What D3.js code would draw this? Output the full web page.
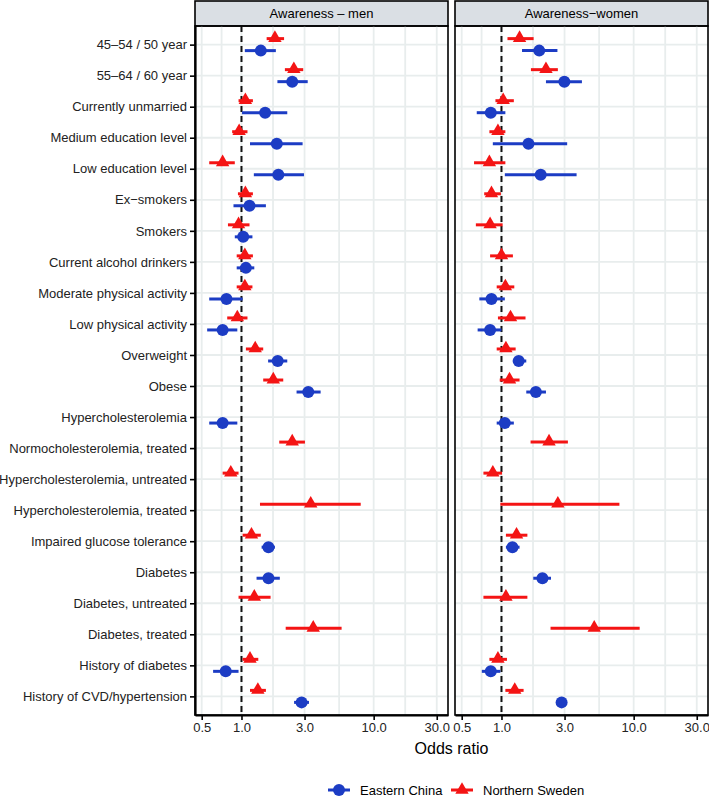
<!DOCTYPE html>
<html>
<head>
<meta charset="utf-8">
<script src="https://cdn.jsdelivr.net/npm/d3@7"></script>
<style>
  body { margin: 0; background: #fff; }
  svg { font-family: "Liberation Sans", Arial, sans-serif; }
</style>
</head>
<body>
<div id="chart"></div>
<script>
// row labels, top to bottom
var categories = ["45–54 / 50 year", "55–64 / 60 year", "Currently unmarried", "Medium education level",
    "Low education level", "Ex−smokers", "Smokers", "Current alcohol drinkers", "Moderate physical activity",
    "Low physical activity", "Overweight", "Obese", "Hypercholesterolemia", "Normocholesterolemia, treated",
    "Hypercholesterolemia, untreated", "Hypercholesterolemia, treated", "Impaired glucose tolerance", "Diabetes",
    "Diabetes, untreated", "Diabetes, treated", "History of diabetes", "History of CVD/hypertension"];

var panels = ["Awareness – men", "Awareness−women"];
var seriesNames = ["Eastern China", "Northern Sweden"];
var tickValues = [0.5, 1, 3, 10, 30];
var tickLabels = ["0.5", "1.0", "3.0", "10.0", "30.0"];

// [odds ratio, lower, upper], null = not estimated
var chinaMen = [[1.40, 1.06, 1.82], [2.42, 1.87, 3.17], [1.51, 1.01, 2.22], [1.85, 1.16, 2.90], [1.90, 1.24, 2.97],
    [1.15, 0.87, 1.53], [1.03, 0.89, 1.21], [1.08, 0.92, 1.25], [0.77, 0.57, 1.02], [0.72, 0.55, 0.93],
    [1.88, 1.59, 2.22], [3.20, 2.61, 3.97], [0.72, 0.57, 0.93], null, null, null,
    [1.60, 1.42, 1.79], [1.60, 1.30, 1.95], null, null, [0.76, 0.61, 0.95], [2.85, 2.50, 3.24]];

var swedenMen = [[1.79, 1.55, 2.10], [2.49, 2.13, 2.93], [1.07, 0.95, 1.22], [0.96, 0.85, 1.11], [0.72, 0.57, 0.89],
    [1.07, 0.94, 1.22], [0.95, 0.79, 1.15], [1.06, 0.92, 1.22], [1.06, 0.92, 1.21], [0.93, 0.78, 1.11],
    [1.27, 1.08, 1.46], [1.74, 1.46, 2.07], null, [2.42, 1.93, 3.02], [0.83, 0.72, 0.95], [3.34, 1.38, 7.98],
    [1.19, 1.02, 1.40], null, [1.25, 0.95, 1.66], [3.49, 2.16, 5.72], [1.16, 1.02, 1.34], [1.33, 1.16, 1.53]];

var chinaWomen = [[1.93, 1.43, 2.65], [2.99, 2.17, 4.06], [0.83, 0.65, 1.07], [1.60, 0.86, 3.14], [1.98, 1.06, 3.70],
    null, null, null, [0.84, 0.68, 1.06], [0.82, 0.66, 1.00],
    [1.35, 1.22, 1.54], [1.82, 1.54, 2.17], [1.06, 0.92, 1.24], null, null, null,
    [1.21, 1.08, 1.37], [2.04, 1.74, 2.37], null, null, [0.83, 0.71, 0.98], [2.85, 2.65, 3.05]];

var swedenWomen = [[1.37, 1.11, 1.75], [2.17, 1.67, 2.67], [1.03, 0.90, 1.24], [0.94, 0.81, 1.07], [0.81, 0.62, 1.07],
    [0.84, 0.74, 0.99], [0.82, 0.64, 1.02], [1.00, 0.82, 1.22], [1.07, 0.92, 1.25], [1.17, 0.94, 1.52],
    [1.08, 0.92, 1.28], [1.15, 0.97, 1.37], null, [2.29, 1.66, 3.18], [0.86, 0.73, 1.01], [2.67, 0.98, 7.80],
    [1.30, 1.08, 1.57], null, [1.08, 0.73, 1.57], [5.03, 2.35, 11.1], [0.94, 0.81, 1.10], [1.26, 1.07, 1.47]];

var panelData = [[chinaMen, swedenMen], [chinaWomen, swedenWomen]];

var width = 709, height = 797;
var panelLeft = [195, 455], panelW = 253,
    stripTop = 1, stripH = 25, plotTop = 26, plotBottom = 715;

var colors = ["#1c3cc4", "#f41414"];
var dodge = [6, -6];

var svg = d3.select("#chart")
    .append("svg")
    .attr("width", width)
    .attr("height", height);

var x = d3.scaleLog()
    .domain([0.445, 36.5])
    .range([0, panelW]);

var y = d3.scalePoint()
    .domain(categories)
    .range([plotTop, plotBottom])
    .padding(0.6);

var minorTicks = [Math.sqrt(0.5), Math.sqrt(3), Math.sqrt(30), Math.sqrt(300)];
var triangle = d3.symbol().type(d3.symbolTriangle).size(78);

panels.forEach(function (title, p) {
    var g = svg.append("g")
        .attr("transform", "translate(" + panelLeft[p] + ",0)");

    // strip
    g.append("rect")
        .attr("x", 0).attr("y", stripTop)
        .attr("width", panelW).attr("height", stripH)
        .attr("fill", "#dadfe4")
        .attr("stroke", "#000").attr("stroke-width", 1.6);
    g.append("text")
        .attr("x", panelW / 2).attr("y", stripTop + stripH / 2 + 4.5)
        .attr("text-anchor", "middle")
        .style("font-size", "13px")
        .text(title);

    // grid
    g.selectAll(".vgrid")
        .data(tickValues.concat(minorTicks))
        .enter().append("line")
        .attr("x1", function (d) { return x(d); })
        .attr("x2", function (d) { return x(d); })
        .attr("y1", plotTop).attr("y2", plotBottom)
        .attr("stroke", "#e8eded").attr("stroke-width", 1.8);
    g.selectAll(".hgrid")
        .data(categories)
        .enter().append("line")
        .attr("x1", 0).attr("x2", panelW)
        .attr("y1", function (d) { return y(d); })
        .attr("y2", function (d) { return y(d); })
        .attr("stroke", "#e8eded").attr("stroke-width", 1.8);

    // reference line at OR = 1
    g.append("line")
        .attr("x1", x(1)).attr("x2", x(1))
        .attr("y1", plotTop).attr("y2", plotBottom)
        .attr("stroke", "#111").attr("stroke-width", 2)
        .attr("stroke-dasharray", "6,4");

    panelData[p].forEach(function (series, s) {
        var rows = [];
        series.forEach(function (v, i) {
            if (v) rows.push({ cat: categories[i], or: v[0], lo: v[1], hi: v[2] });
        });
        var sg = g.append("g");
        sg.selectAll("line")
            .data(rows)
            .enter().append("line")
            .attr("x1", function (d) { return x(d.lo); })
            .attr("x2", function (d) { return x(d.hi); })
            .attr("y1", function (d) { return y(d.cat) + dodge[s]; })
            .attr("y2", function (d) { return y(d.cat) + dodge[s]; })
            .attr("stroke", colors[s]).attr("stroke-width", 3);
        if (s == 0) {
            sg.selectAll("circle")
                .data(rows)
                .enter().append("circle")
                .attr("cx", function (d) { return x(d.or); })
                .attr("cy", function (d) { return y(d.cat) + dodge[s]; })
                .attr("r", 6)
                .attr("fill", colors[s]);
        } else {
            sg.selectAll("path")
                .data(rows)
                .enter().append("path")
                .attr("d", triangle)
                .attr("transform", function (d) {
                    return "translate(" + x(d.or) + "," + (y(d.cat) + dodge[s] - 0.5) + ")";
                })
                .attr("fill", colors[s]);
        }
    });

    // panel border
    g.append("rect")
        .attr("x", 0).attr("y", plotTop)
        .attr("width", panelW).attr("height", plotBottom - plotTop)
        .attr("fill", "none")
        .attr("stroke", "#000").attr("stroke-width", 1.6);

    // x axis
    var xa = g.append("g")
        .attr("transform", "translate(0," + plotBottom + ")")
        .call(d3.axisBottom(x).tickValues(tickValues)
            .tickFormat(function (d, i) { return tickLabels[i]; })
            .tickSize(5).tickPadding(3).tickSizeOuter(0));
    xa.select(".domain").attr("stroke-width", 2.2);
    xa.selectAll(".tick line").attr("stroke-width", 1.6);
    xa.selectAll("text").style("font-size", "13px").attr("fill", "#222");
});

// y axis on the left panel
var ya = svg.append("g")
    .attr("transform", "translate(" + panelLeft[0] + ",0)")
    .call(d3.axisLeft(y).tickSize(5).tickPadding(3).tickSizeOuter(0));
ya.select(".domain").attr("stroke-width", 2.2);
ya.selectAll(".tick line").attr("stroke-width", 1.6);
ya.selectAll("text").style("font-size", "13px").attr("fill", "#222");

svg.append("text")
    .attr("x", (panelLeft[0] + panelLeft[1] + panelW) / 2)
    .attr("y", 754)
    .attr("text-anchor", "middle")
    .style("font-size", "16px")
    .text("Odds ratio");

// legend
var legX = [339, 462];
seriesNames.forEach(function (name, s) {
    var lg = svg.append("g").attr("transform", "translate(" + legX[s] + ",790)");
    lg.append("line").attr("x1", -11).attr("x2", 11)
        .attr("stroke", colors[s]).attr("stroke-width", 3);
    if (s == 0) {
        lg.append("circle").attr("r", 6).attr("fill", colors[s]);
    } else {
        lg.append("path").attr("d", triangle).attr("fill", colors[s]);
    }
    lg.append("text").attr("x", 21).attr("y", 4.5)
        .style("font-size", "13px")
        .text(name);
});
</script>
</body>
</html>
